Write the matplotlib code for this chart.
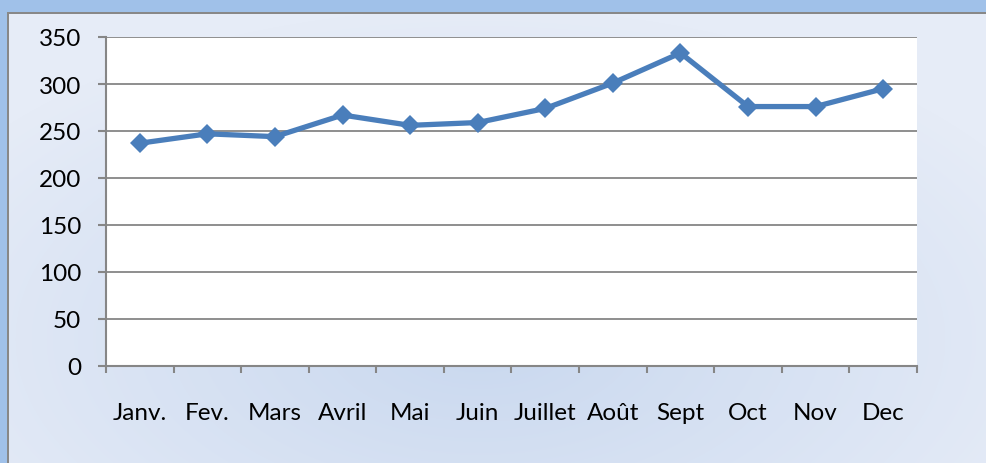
import numpy as np
import matplotlib
matplotlib.use('Agg')
import matplotlib.pyplot as plt

months = ['Janv.', 'Fev.', 'Mars', 'Avril', 'Mai', 'Juin', 'Juillet', 'Août', 'Sept', 'Oct', 'Nov', 'Dec']
values = [237, 247, 244, 267, 256, 259, 274, 301, 333, 276, 276, 295]
yticks = [0, 50, 100, 150, 200, 250, 300, 350]

plt.rcParams['font.family'] = ['Lato', 'DejaVu Sans']

W, H = 987, 464
fig = plt.figure(figsize=(W / 100, H / 100), dpi=100)

# background: soft radial blue gradient, with the outer frame strip
yy, xx = np.mgrid[0:H, 0:W]
r = np.sqrt(((xx - 480) / 620.0) ** 2 + ((yy - 340) / 330.0) ** 2)
r = np.clip(r, 0, 1)
inner = np.array([0xc9, 0xd8, 0xef]) / 255.0
outer = np.array([0xe6, 0xec, 0xf7]) / 255.0
img = inner[None, None, :] * (1 - r[..., None]) + outer[None, None, :] * r[..., None]
strip = np.array([0xa0, 0xc2, 0xea]) / 255.0
img[:13, :, :] = strip
img[:, :7, :] = strip
img[13:15, 7:, :] = np.array([0x88, 0x88, 0x88]) / 255.0
img[13:, 7:9, :] = np.array([0x88, 0x88, 0x88]) / 255.0

bg = fig.add_axes([0, 0, 1, 1], zorder=-1)
bg.imshow(img, aspect='auto', interpolation='bilinear')
bg.axis('off')

ax = fig.add_axes([106 / W, 1 - 367 / H, 811 / W, 329 / H])
ax.set_facecolor('white')
x = np.arange(len(months))
ax.plot(x, values, color='#4a7ebb', linewidth=3.8, marker='D', markersize=10.5,
        markeredgewidth=0, zorder=3, clip_on=False)

ax.set_xlim(-0.5, len(months) - 0.5)
ax.set_ylim(0, 350)
ax.set_yticks(yticks)
ax.set_xticks(np.arange(-0.5, len(months), 1))
ax.set_xticklabels([])
ax.set_xticks(x, minor=True)
ax.set_xticklabels(months, minor=True)

grid_c = '#868686'
ax.yaxis.grid(True, color=grid_c, linewidth=1.3)
ax.set_axisbelow(True)
for s in ['top', 'right']:
    ax.spines[s].set_visible(False)
for s in ['left', 'bottom']:
    ax.spines[s].set_color(grid_c)
    ax.spines[s].set_linewidth(1.5)

ax.tick_params(axis='y', which='major', length=6, width=1.5, color=grid_c,
               labelsize=17.5, pad=12, labelcolor='black')
ax.tick_params(axis='x', which='major', length=5, width=1.5, color=grid_c)
ax.tick_params(axis='x', which='minor', length=0, labelsize=17.5, pad=26,
               labelcolor='black')

fig.savefig('out.png', dpi=100)
